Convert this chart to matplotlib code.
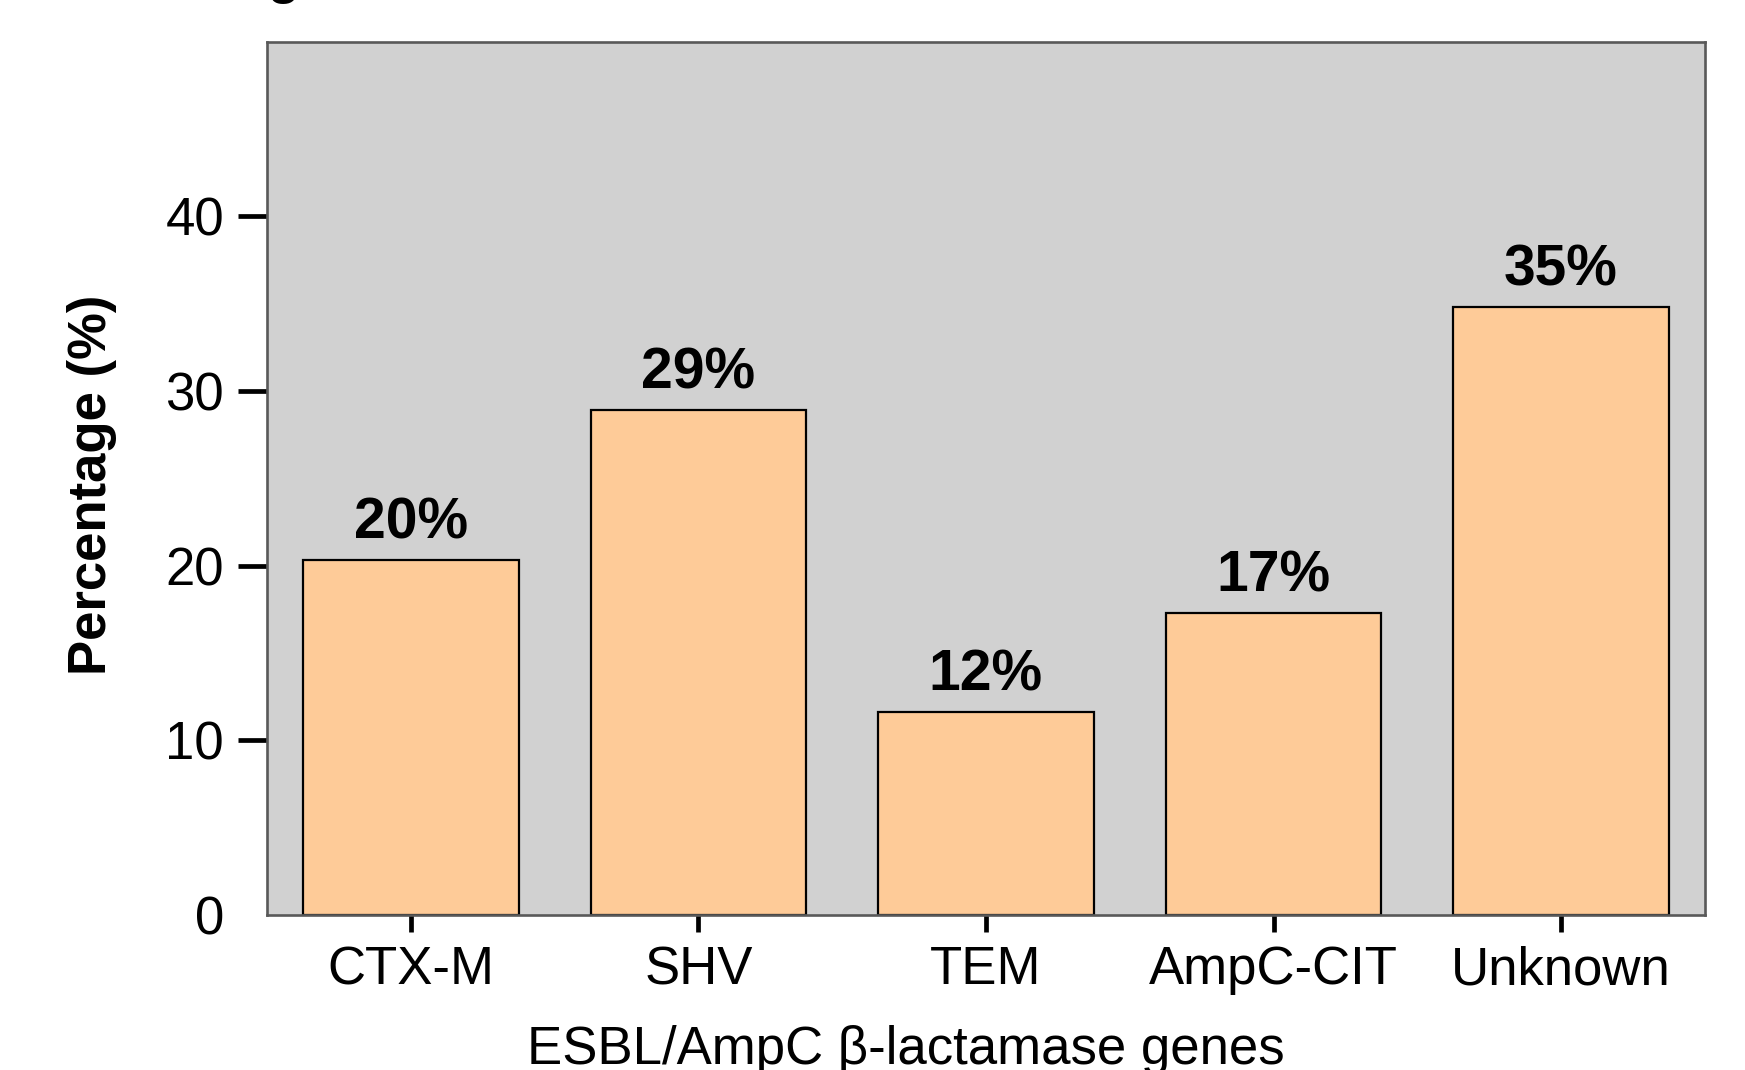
import matplotlib.pyplot as plt

plt.rcParams['font.family'] = ['Liberation Sans', 'DejaVu Sans']

genes = ['CTX-M', 'SHV', 'TEM', 'AmpC-CIT', 'Unknown']
percent = [20.3, 28.9, 11.6, 17.3, 34.8]
yticks = [0, 10, 20, 30, 40]

fig = plt.figure(figsize=(17.45, 10.7), dpi=100)
ax = fig.add_axes([0.153, 0.145, 0.824, 0.816])
ax.set_facecolor('#d1d1d1')

x = range(len(genes))
bars = ax.bar(x, percent, width=0.75, color='#fecb98',
              edgecolor='black', linewidth=1.6, zorder=2)

# value labels over each bar
for b, v in zip(bars, percent):
    ax.annotate('%d%%' % round(v), (b.get_x() + b.get_width() / 2, v),
                xytext=(0, 15.5), textcoords='offset points',
                ha='center', va='baseline', fontsize=41, fontweight='bold')

ax.set_xlim(-0.5, 4.5)
ax.set_ylim(0, 50)
ax.set_xticks(list(x))
ax.set_xticklabels(genes)
ax.set_yticks(yticks)
ax.set_yticklabels([str(t) for t in yticks])

ax.tick_params(axis='x', length=12, width=3.4, pad=10, labelsize=38,
               color='black')
ax.tick_params(axis='y', length=21, width=3.4, pad=10, labelsize=38,
               color='black')
ax.yaxis.get_major_ticks()[0].tick1line.set_visible(False)

for s in ax.spines.values():
    s.set_color('#595959')
    s.set_linewidth(1.9)

ax.set_ylabel('Percentage (%)', fontsize=38, fontweight='bold')
ax.yaxis.label.set_va('center')
ax.yaxis.set_label_coords(-0.1217, 0.4926)

ax.set_xlabel('ESBL/AmpC β-lactamase genes', fontsize=38)
ax.xaxis.label.set_va('baseline')
ax.xaxis.set_label_coords(0.444, -0.171)

# panel title sitting just off the top edge
fig.text(0.127, 1.0065, 'Fig', fontsize=38, fontweight='bold',
         ha='left', va='baseline')

fig.savefig('out.png', dpi=100)
